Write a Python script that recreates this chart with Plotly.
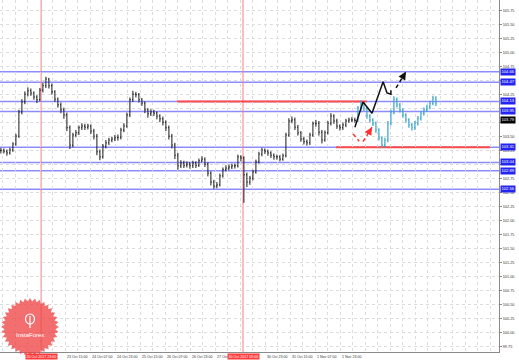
import numpy as np
import plotly.graph_objects as go

# ------------------------------------------------------------------ data
first_open = 103.25
hist_close = [103.26, 103.24, 103.21, 103.26, 103.37, 103.51, 103.94, 104.12, 104.26, 104.32,
              104.28, 104.21, 104.16, 104.33, 104.41, 104.53, 104.41, 104.30, 104.17, 104.07,
              103.98, 103.89, 103.66, 103.35, 103.53, 103.57, 103.66, 103.69, 103.67, 103.69,
              103.60, 103.51, 103.23, 103.14, 103.33, 103.39, 103.44, 103.46, 103.48, 103.49,
              103.62, 103.69, 103.89, 104.16, 104.26, 104.25, 104.16, 104.10, 103.98, 103.91,
              103.94, 103.92, 103.87, 103.82, 103.76, 103.66, 103.51, 103.35, 103.17, 102.98,
              103.03, 102.99, 103.01, 102.98, 103.03, 102.99, 103.07, 103.10, 103.01, 102.85,
              102.69, 102.62, 102.64, 102.80, 102.91, 102.94, 102.96, 102.98, 102.98, 103.14,
              103.12, 102.82, 102.69, 102.76, 102.87, 103.05, 103.19, 103.26, 103.24, 103.21,
              103.17, 103.14, 103.14, 103.10, 103.16, 103.53, 103.78, 103.80, 103.67, 103.57,
              103.46, 103.41, 103.39, 103.53, 103.73, 103.74, 103.58, 103.44, 103.57, 103.74,
              103.87, 103.78, 103.69, 103.66, 103.71, 103.78, 103.80, 103.80, 103.79]
hist_high = [103.30, 103.29, 103.27, 103.30, 103.40, 103.55, 103.98, 104.17, 104.31, 104.38,
             104.36, 104.31, 104.24, 104.37, 104.46, 104.57, 104.55, 104.45, 104.33, 104.20,
             104.11, 104.02, 103.93, 103.70, 103.57, 103.62, 103.70, 103.74, 103.73, 103.73,
             103.72, 103.64, 103.55, 103.27, 103.37, 103.44, 103.48, 103.50, 103.53, 103.54,
             103.66, 103.74, 103.93, 104.20, 104.32, 104.30, 104.28, 104.19, 104.13, 104.01,
             103.99, 103.98, 103.95, 103.90, 103.86, 103.79, 103.70, 103.55, 103.39, 103.21,
             103.08, 103.07, 103.06, 103.05, 103.07, 103.06, 103.11, 103.15, 103.13, 103.04,
             102.88, 102.73, 102.69, 102.84, 102.95, 102.99, 103.00, 103.02, 103.02, 103.18,
             103.17, 103.15, 102.86, 102.80, 102.91, 103.09, 103.23, 103.30, 103.29, 103.27,
             103.24, 103.20, 103.18, 103.17, 103.20, 103.57, 103.83, 103.86, 103.84, 103.71,
             103.60, 103.50, 103.45, 103.57, 103.77, 103.80, 103.78, 103.62, 103.61, 103.78,
             103.92, 103.90, 103.82, 103.72, 103.75, 103.82, 103.84, 103.85, 103.84]
hist_low = [103.20, 103.20, 103.16, 103.18, 103.23, 103.34, 103.48, 103.90, 104.08, 104.22,
            104.23, 104.16, 104.10, 104.13, 104.29, 104.37, 104.36, 104.25, 104.12, 104.02,
            103.92, 103.82, 103.60, 103.28, 103.31, 103.49, 103.53, 103.62, 103.62, 103.63,
            103.55, 103.45, 103.17, 103.08, 103.11, 103.29, 103.35, 103.40, 103.42, 103.43,
            103.45, 103.58, 103.66, 103.85, 104.12, 104.20, 104.11, 104.05, 103.92, 103.84,
            103.87, 103.87, 103.81, 103.76, 103.70, 103.60, 103.45, 103.29, 103.10, 102.91,
            102.94, 102.94, 102.95, 102.93, 102.94, 102.94, 102.96, 103.04, 102.96, 102.79,
            102.63, 102.57, 102.58, 102.61, 102.77, 102.88, 102.90, 102.92, 102.93, 102.95,
            103.06, 102.32, 102.60, 102.64, 102.72, 102.84, 103.02, 103.15, 103.19, 103.16,
            103.12, 103.09, 103.09, 103.06, 103.07, 103.13, 103.50, 103.74, 103.62, 103.52,
            103.41, 103.36, 103.34, 103.35, 103.50, 103.68, 103.52, 103.38, 103.41, 103.54,
            103.70, 103.73, 103.64, 103.61, 103.62, 103.67, 103.75, 103.76, 103.75]

fc_close = [104.01, 104.10, 104.01, 103.87, 103.80, 103.74, 103.62, 103.48, 103.35, 103.44,
            103.74, 103.94, 104.17, 104.07, 103.98, 103.89, 103.80, 103.71, 103.66, 103.74,
            103.83, 103.92, 103.98, 104.03, 104.10, 104.19, 104.10]
fc_high = [104.05, 104.15, 104.12, 104.03, 103.90, 103.83, 103.77, 103.65, 103.51, 103.48,
           103.78, 103.98, 104.22, 104.20, 104.10, 104.01, 103.92, 103.83, 103.75, 103.78,
           103.87, 103.96, 104.02, 104.07, 104.14, 104.23, 104.22]
fc_low = [103.76, 103.96, 103.96, 103.82, 103.75, 103.69, 103.57, 103.43, 103.30, 103.31,
          103.40, 103.70, 103.90, 104.02, 103.93, 103.84, 103.75, 103.66, 103.61, 103.62,
          103.70, 103.79, 103.88, 103.94, 103.99, 104.06, 104.05]

blue_levels = [104.66, 104.47, 104.13, 103.95, 103.31, 103.04, 102.89, 102.56]
red_levels = [104.13, 103.31]
red_start = [58.7, 111.7]
red_end = [122.0, 163.0]
vline_bars = [13.4, 80.7]
vline_labels = ["20 Oct 2017 23:00", "30 Oct 2017 09:00"]

path_black_x = [118.0, 120.7, 123.7, 127.4, 128.7, 130.0, 130.0]
path_black_y = [103.67, 104.12, 103.92, 104.48, 104.28, 104.26, 104.33]
dash_black_x = [131.7, 135.0]
dash_black_y = [104.37, 104.66]
dash_red1_x = [117.4, 119.4]
dash_red1_y = [103.55, 103.42]
dash_red2_x = [120.7, 123.7]
dash_red2_y = [103.41, 103.67]

y_tick_vals = [99.75, 100.00, 100.25, 100.50, 100.75, 101.00, 101.25, 101.50, 101.75,
               102.00, 102.25, 102.50, 102.75, 103.00, 103.25, 103.50, 103.75, 104.00,
               104.25, 104.50, 104.75, 105.00, 105.25, 105.50, 105.75]
x_label_pos = [-5.3, 21.4, 29.7, 38.0, 46.4, 54.7, 63.0, 71.4, 88.0, 96.4, 104.7, 113.0]
x_label_txt = ["19 Oct 13:00", "23 Oct 15:00", "24 Oct 07:00", "24 Oct 23:00", "25 Oct 15:00",
               "26 Oct 07:00", "26 Oct 23:00", "27 Oct", "30 Oct 23:00", "31 Oct 15:00",
               "1 Nov 07:00", "1 Nov 23:00"]

# ------------------------------------------------------------------ figure
hist_x = list(range(len(hist_close)))
hist_open = [first_open] + hist_close[:-1]
fc_x = list(range(len(hist_close), len(hist_close) + len(fc_close)))
fc_open = [hist_close[-1]] + fc_close[:-1]

FONT = "Liberation Sans"
fig = go.Figure()

# horizontal levels
for lv in blue_levels:
    fig.add_shape(type="line", xref="paper", x0=0, x1=1, yref="y", y0=lv, y1=lv,
                  line=dict(color="#8c8cff", width=1.5), layer="below")
for lv, a, b in zip(red_levels, red_start, red_end):
    fig.add_shape(type="line", xref="x", x0=a, x1=b, yref="y", y0=lv, y1=lv,
                  line=dict(color="#ff4a4a", width=2), layer="below")
for vb in vline_bars:
    fig.add_shape(type="line", xref="x", x0=vb, x1=vb, yref="paper", y0=0, y1=1,
                  line=dict(color="#ff7a7a", width=1), layer="below")

fig.add_trace(go.Ohlc(
    x=hist_x, open=hist_open, high=hist_high, low=hist_low, close=hist_close,
    increasing=dict(line=dict(color="#1a1a1a", width=1)),
    decreasing=dict(line=dict(color="#1a1a1a", width=1)),
    tickwidth=0.3, showlegend=False, hoverinfo="skip"))
fig.add_trace(go.Ohlc(
    x=fc_x, open=fc_open, high=fc_high, low=fc_low, close=fc_close,
    increasing=dict(line=dict(color="#3aa3c8", width=1.2)),
    decreasing=dict(line=dict(color="#3aa3c8", width=1.2)),
    tickwidth=0.3, showlegend=False, hoverinfo="skip"))

# drawn forecast arrows
fig.add_trace(go.Scatter(x=path_black_x, y=path_black_y, mode="lines",
                         line=dict(color="#111111", width=1.5), showlegend=False, hoverinfo="skip"))
fig.add_trace(go.Scatter(x=dash_black_x, y=dash_black_y, mode="lines",
                         line=dict(color="#111111", width=1.5, dash="4px,3px"), showlegend=False, hoverinfo="skip"))
fig.add_trace(go.Scatter(x=dash_red1_x, y=dash_red1_y, mode="lines",
                         line=dict(color="#ff3030", width=1.5, dash="4px,3px"), showlegend=False, hoverinfo="skip"))
fig.add_trace(go.Scatter(x=dash_red2_x, y=dash_red2_y, mode="lines",
                         line=dict(color="#ff3030", width=1.5, dash="4px,3px"), showlegend=False, hoverinfo="skip"))
fig.add_annotation(x=dash_black_x[1], y=dash_black_y[1], ax=dash_black_x[1] - 1.0,
                   ay=dash_black_y[1] - 0.09, axref="x", ayref="y", xref="x", yref="y",
                   showarrow=True, arrowhead=2, arrowsize=1.2, arrowwidth=1.3,
                   arrowcolor="#111111", text="")
fig.add_annotation(x=dash_red2_x[1], y=dash_red2_y[1], ax=dash_red2_x[1] - 1.0,
                   ay=dash_red2_y[1] - 0.09, axref="x", ayref="y", xref="x", yref="y",
                   showarrow=True, arrowhead=2, arrowsize=1.2, arrowwidth=1.3,
                   arrowcolor="#ff3030", text="")

# right-axis tick labels (those hidden by level boxes are left out)
box_prices = blue_levels + [hist_close[-1]]
shown_ticks = [v for v in y_tick_vals if min(abs(v - b) for b in box_prices) > 0.055]

# price labels on right axis
for lv in blue_levels:
    fig.add_annotation(xref="paper", x=1, xanchor="left", xshift=1, yref="y", y=lv,
                       text=f"{lv:.2f}", showarrow=False, bgcolor="#2424f0",
                       font=dict(family=FONT, size=4.2, color="white"), borderpad=0.4)
fig.add_annotation(xref="paper", x=1, xanchor="left", xshift=1, yref="y", y=hist_close[-1],
                   text=f"{hist_close[-1]:.2f}", showarrow=False, bgcolor="#000000",
                   font=dict(family=FONT, size=4.2, color="white"), borderpad=0.4)

# time labels
for p, t in zip(x_label_pos, x_label_txt):
    fig.add_annotation(xref="x", x=p, xanchor="left", yref="paper", y=0, yanchor="top",
                       yshift=-0.5, text=t, showarrow=False,
                       font=dict(family=FONT, size=3.6, color="#333333"))
for vb, t in zip(vline_bars, vline_labels):
    fig.add_annotation(xref="x", x=vb, xanchor="center", yref="paper", y=0, yanchor="top",
                       yshift=-0.5, text=t, showarrow=False, bgcolor="#ff3b3b",
                       font=dict(family=FONT, size=3.6, color="white"), borderpad=0.6)

# logo (decoration)
W, H = 499.0, 352.0
cx, cy, ro, ri, n = 30.0, 327.0, 29.0, 25.5, 36
pts = []
for k in range(2 * n):
    r = ro if k % 2 == 0 else ri
    a = np.pi * k / n
    pts.append(((cx + r * np.cos(a)) / W, 1 - (cy + r * np.sin(a)) / H))
path = "M " + " L ".join(f"{x:.5f},{y:.5f}" for x, y in pts) + " Z"
fig.add_shape(type="path", xref="paper", yref="paper", path=path,
              fillcolor="rgba(240,70,70,0.78)", line=dict(width=0), layer="above")
fig.add_shape(type="circle", xref="paper", yref="paper",
              x0=(cx - 4.5) / W, x1=(cx + 4.5) / W, y0=1 - (cy - 3) / H, y1=1 - (cy - 13) / H,
              line=dict(color="white", width=1.2), layer="above")
fig.add_shape(type="line", xref="paper", yref="paper",
              x0=cx / W, x1=cx / W, y0=1 - (cy - 11) / H, y1=1 - (cy + 1) / H,
              line=dict(color="white", width=1.2), layer="above")
fig.add_annotation(xref="paper", yref="paper", x=cx / W, y=1 - (cy + 8) / H,
                   xanchor="center", yanchor="middle",
                   text="InstaForex", showarrow=False,
                   font=dict(family=FONT, size=6, color="white"))

fig.update_layout(
    width=519, height=361, autosize=False,
    margin=dict(l=0, r=20, t=0, b=9),
    paper_bgcolor="white", plot_bgcolor="white",
    showlegend=False,
    xaxis=dict(range=[-0.3, 166.03], rangeslider=dict(visible=False),
               tickmode="array", tickvals=list(np.arange(0.533, 166.0, 12.5 / 3)),
               showticklabels=False, ticks="", showgrid=True, gridcolor="#dcdcdc",
               griddash="dot", gridwidth=1, zeroline=False,
               showline=True, linecolor="#8a8a8a", linewidth=1),
    yaxis=dict(range=[99.655, 105.941], side="right", tickmode="array",
               tickvals=y_tick_vals,
               ticktext=[f"{v:.2f}" if v in shown_ticks else "" for v in y_tick_vals],
               tickfont=dict(family=FONT, size=3.8, color="#333333"),
               ticks="outside", ticklen=2, tickcolor="#8a8a8a",
               showgrid=True, gridcolor="#dcdcdc", griddash="dot", gridwidth=1,
               zeroline=False, showline=True, linecolor="#8a8a8a", linewidth=1),
)

fig.write_html("out.html")
